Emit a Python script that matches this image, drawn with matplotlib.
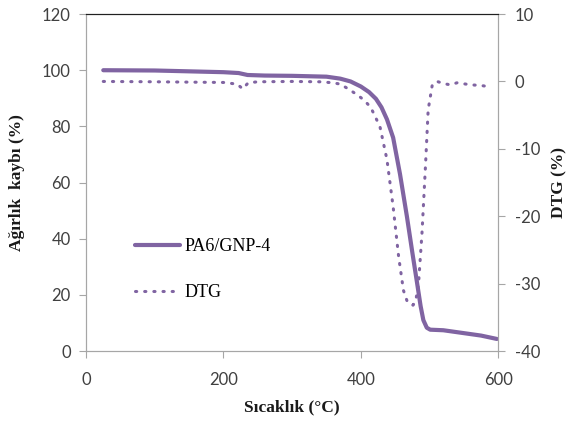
import matplotlib
matplotlib.use("Agg")
import matplotlib.pyplot as plt

# weight curve (TGA)
temp_w = [25, 100, 200, 222, 235, 260, 300, 350, 370, 385, 400, 412, 422, 430, 438, 447,
          457, 467, 475, 482, 487, 491, 496, 501, 520, 549, 575, 598]
weight = [100, 99.9, 99.3, 99.0, 98.3, 98.1, 98.0, 97.7, 97.0, 96.0, 94.2, 92.2, 89.8, 86.8, 82.5, 76,
          63, 48, 35, 24, 16, 11, 8.3, 7.6, 7.4, 6.4, 5.5, 4.3]

# derivative curve
temp_d = [25, 100, 200, 220, 228, 236, 250, 300, 340, 360, 370, 380, 395, 405, 414, 420,
          428, 438, 447, 455, 462, 468, 476, 480, 484, 489, 494, 498, 504, 511, 520, 530,
          540, 560, 575, 588]
dtg = [0, -0.05, -0.15, -0.4, -1.1, -0.2, -0.05, 0, -0.05, -0.2, -0.4, -1.0, -2.0, -2.8,
       -3.8, -5, -6.8, -11.6, -18.6, -26, -31, -32.8, -33.2, -32.5, -30, -22.5, -12.7, -4.2,
       -0.5, 0, -0.3, -0.5, -0.2, -0.5, -0.6, -0.8]

PURPLE = "#8064A2"
AXIS_GRAY = "#A6A6A6"
TICK_TEXT = "#404040"

plt.rcParams["font.family"] = ["Lato", "DejaVu Sans"]
plt.rcParams["axes.unicode_minus"] = False

fig = plt.figure(figsize=(5.74, 4.26), dpi=100)
ax = fig.add_axes([0.150, 0.176, 0.718, 0.791])
ax2 = ax.twinx()

l1, = ax.plot(temp_w, weight, color=PURPLE, linewidth=3, solid_capstyle="round",
              label="PA6/GNP-4")
l2, = ax2.plot(temp_d, dtg, color=PURPLE, linewidth=2.2, linestyle=(0, (0.4, 2.6)),
               dash_capstyle="round", label="DTG")

ax.set_xlim(0, 600)
ax.set_ylim(0, 120)
ax2.set_ylim(-40, 10)
ax.set_xticks([0, 200, 400, 600])
ax.set_yticks(range(0, 121, 20))
ax2.set_yticks(range(-40, 11, 10))

for a in (ax, ax2):
    for side in ("left", "right", "bottom"):
        a.spines[side].set_color(AXIS_GRAY)
    a.spines["top"].set_color("#202020")
    a.spines["top"].set_linewidth(0.8)
    a.tick_params(colors=AXIS_GRAY, labelcolor=TICK_TEXT, labelsize=12, length=5)
ax.tick_params(axis="x", pad=10)
ax.tick_params(axis="y", pad=6)
ax2.tick_params(axis="y", pad=7)

ax.set_xlabel("Sıcaklık (°C)", family="Liberation Serif", fontweight="bold",
              fontsize=12.5, color="#1a1a1a", labelpad=8)
ax.set_ylabel("Ağırlık  kaybı (%)", family="Liberation Serif", fontweight="bold",
              fontsize=12.5, color="#1a1a1a", labelpad=12)
ax2.set_ylabel("DTG (%)", family="Liberation Serif", fontweight="bold",
               fontsize=12.5, color="#1a1a1a", labelpad=8)

leg = ax.legend(handles=[l1, l2], loc="upper left", bbox_to_anchor=(0.08, 0.383),
                frameon=False, prop={"family": "Liberation Serif", "size": 13},
                handlelength=2.5, handletextpad=0.25, labelspacing=1.6)

fig.savefig("out.png", dpi=100)
